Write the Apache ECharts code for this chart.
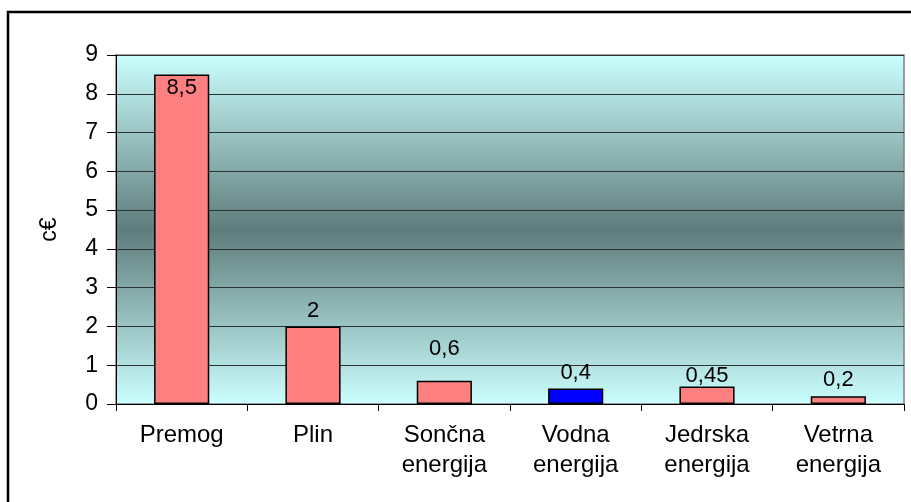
<!DOCTYPE html>
<html>
<head>
<meta charset="utf-8">
<style>
  html, body { margin: 0; padding: 0; background: #fff; }
  #chart { width: 911px; height: 502px; }
</style>
<script src="https://cdn.jsdelivr.net/npm/echarts@6/dist/echarts.min.js"></script>
</head>
<body>
<div id="chart"></div>
<script>
// Energy sources and their cost (c€)
const categories = ['Premog', 'Plin', 'Sončna\nenergija', 'Vodna\nenergija', 'Jedrska\nenergija', 'Vetrna\nenergija'];
const values = [8.5, 2, 0.6, 0.4, 0.45, 0.2];
const yTicks = [0, 1, 2, 3, 4, 5, 6, 7, 8, 9];

// Presentation: bar fills and label placement per bar
const barColors = ['#ff8080', '#ff8080', '#ff8080', '#0000ff', '#ff8080', '#ff8080'];
const labelPlacement = ['insideTop', 'top', 'top', 'top', 'top', 'top'];
const labelDistance = [3, 5, 21, 5, 0, 5];

const FONT = "'Liberation Sans', Arial, sans-serif";

const chart = echarts.init(document.getElementById('chart'), null, { renderer: 'canvas' });

chart.setOption({
  animation: false,
  textStyle: { fontFamily: FONT },
  graphic: [{
    type: 'rect',
    shape: { x: 8, y: 12, width: 1000, height: 1000 },
    style: { fill: 'none', stroke: '#000', lineWidth: 2.5 },
    silent: true,
    z: 0
  }],
  grid: {
    left: 116, right: 7, top: 55, bottom: 98,
    show: true,
    borderColor: '#808080',
    borderWidth: 1.5,
    backgroundColor: {
      type: 'linear', x: 0, y: 0, x2: 0, y2: 1,
      colorStops: [
        { offset: 0, color: '#ccffff' },
        { offset: 0.5, color: '#5e7c7b' },
        { offset: 1, color: '#ccffff' }
      ]
    }
  },
  xAxis: {
    type: 'category',
    data: categories,
    boundaryGap: true,
    axisLine: { show: true, lineStyle: { color: '#000', width: 1 } },
    axisTick: { show: true, length: 7, alignWithLabel: false, lineStyle: { color: '#000' } },
    axisLabel: {
      color: '#000', fontSize: 24, fontFamily: FONT, lineHeight: 30,
      margin: 16, interval: 0
    }
  },
  yAxis: {
    type: 'value',
    min: yTicks[0],
    max: yTicks[yTicks.length - 1],
    interval: 1,
    name: 'c€',
    nameLocation: 'middle',
    nameRotate: 90,
    nameGap: 55,
    nameTextStyle: { color: '#000', fontSize: 23, fontFamily: FONT },
    axisLine: { show: true, lineStyle: { color: '#000', width: 1 } },
    axisTick: { show: true, length: 9, lineStyle: { color: '#000' } },
    axisLabel: { color: '#000', fontSize: 23, fontFamily: FONT, margin: 18 },
    splitLine: { show: true, lineStyle: { color: '#2b3333', width: 1 } }
  },
  series: [{
    type: 'bar',
    barWidth: '42%',
    data: values.map((v, i) => ({
      value: v,
      itemStyle: { color: barColors[i], borderColor: '#000', borderWidth: 1.5 },
      label: { position: labelPlacement[i], distance: labelDistance[i] }
    })),
    label: {
      show: true,
      color: '#000',
      fontSize: 22,
      fontFamily: FONT,
      formatter: p => String(p.value).replace('.', ',')
    }
  }]
});
</script>
</body>
</html>
